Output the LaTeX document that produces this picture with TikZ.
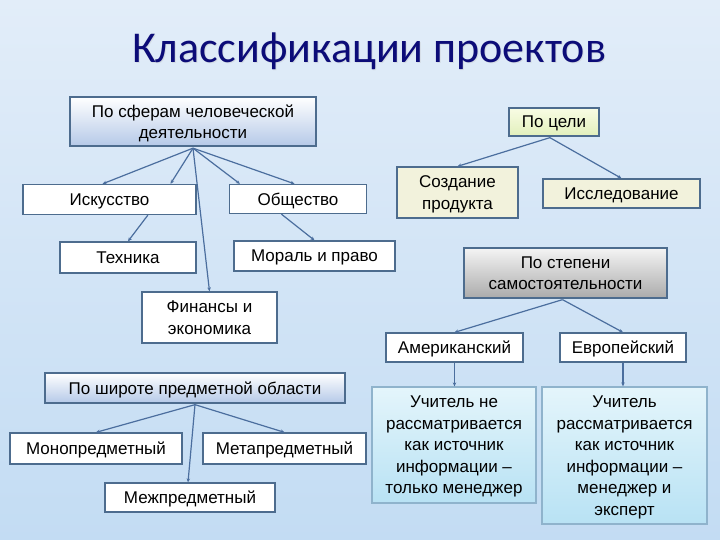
\documentclass[tikz,border=0pt]{standalone}
\usepackage{fontspec}
\setmainfont{Liberation Sans}
\newfontfamily\titlefont{Carlito}
\usetikzlibrary{calc,arrows.meta}
\definecolor{bgA}{HTML}{E2EDF9}
\definecolor{bgB}{HTML}{C3DCF3}
\definecolor{edge}{HTML}{4D6C8E}
\definecolor{conn}{HTML}{4B6E9E}
\definecolor{titleblue}{HTML}{0C0C78}
\definecolor{blueB}{HTML}{B5C9E8}
\definecolor{tselA}{HTML}{F8FCE4}
\definecolor{tselB}{HTML}{E2F0BC}
\definecolor{beige}{HTML}{F2F2DC}
\definecolor{grayA}{HTML}{F4F4F4}
\definecolor{grayB}{HTML}{ABABAB}
\definecolor{cyA}{HTML}{E4F5FB}
\definecolor{cyB}{HTML}{B8E2F4}
\definecolor{cyedge}{HTML}{8FB3CC}
\tikzset{
  boxbase/.style={draw=edge, line width=1.3pt, inner sep=1pt, align=center,
    font=\fontsize{17}{21.5}\selectfont, text=black, text depth=0pt},
  whitebox/.style={boxbase, fill=white},
  bluegrad/.style={boxbase, top color=white, bottom color=blueB},
  conlink/.style={draw=conn, line width=1.2pt, -{Stealth[length=4pt,width=3.5pt]}},
}
\begin{document}
\begin{tikzpicture}[x=1pt,y=-1pt]
\useasboundingbox (0,0) rectangle (720,540);
\shade[top color=bgA, bottom color=bgB] (0,0) rectangle (720,540);
% title
\node[text=black!25, opacity=0.35, font=\titlefont\fontsize{44}{48}\selectfont] at (370,52) {Классификации проектов};
\node (title) [text=titleblue, font=\titlefont\fontsize{44}{48}\selectfont] at (369,51) {Классификации проектов};
% left tree
\node (b1) [bluegrad, minimum width=246pt, minimum height=49pt] at (193,121.5) {По сферам человеческой\\деятельности};
\node (isk) [whitebox, minimum width=173pt, minimum height=30pt] at (109.5,199.5) {Искусство};
\node (obsh) [whitebox, minimum width=137pt, minimum height=29pt] at (298,199) {Общество};
\node (tech) [whitebox, minimum width=136pt, minimum height=31pt] at (128,257.5) {Техника};
\node (moral) [whitebox, minimum width=161pt, minimum height=30pt] at (314.5,256) {Мораль и право};
\node (fin) [whitebox, minimum width=135pt, minimum height=51pt] at (209.5,317.5) {Финансы и\\экономика};
\coordinate (hub) at ($(b1.south)+(0,1.5)$);
\draw[conlink] (hub) -- ($(isk.north west)!0.46!(isk.north east)$);
\draw[conlink] (hub) -- ($(isk.north west)!0.85!(isk.north east)$);
\draw[conlink] (hub) -- (fin.north);
\draw[conlink] (hub) -- ($(obsh.north west)!0.08!(obsh.north east)$);
\draw[conlink] (hub) -- ($(obsh.north west)!0.475!(obsh.north east)$);
\draw[conlink] ($(isk.south west)!0.72!(isk.south east)$) -- (tech.north);
\draw[conlink] ($(obsh.south west)!0.38!(obsh.south east)$) -- (moral.north);
% right top tree
\node (tsel) [boxbase, top color=tselA, bottom color=tselB, minimum width=90pt, minimum height=28pt] at (554,122) {По цели};
\node (sozd) [boxbase, fill=beige, minimum width=121pt, minimum height=51pt] at (457.5,192.5) {Создание\\продукта};
\node (issl) [boxbase, fill=beige, minimum width=157pt, minimum height=29pt] at (621.5,193.5) {Исследование};
\coordinate (thub) at ($(tsel.south west)!0.455!(tsel.south east)+(0,1)$);
\draw[conlink] (thub) -- (sozd.north);
\draw[conlink] (thub) -- (issl.north);
% independence tree
\node (stp) [boxbase, top color=grayA, bottom color=grayB, minimum width=203pt, minimum height=50pt] at (565.5,273) {По степени\\самостоятельности};
\node (amer) [whitebox, minimum width=137pt, minimum height=29pt] at (454.5,347.5) {Американский};
\node (evro) [whitebox, minimum width=126pt, minimum height=29pt] at (623,347.5) {Европейский};
\node (uch1) [boxbase, draw=cyedge, top color=cyA, bottom color=cyB, minimum width=164pt, minimum height=116pt] at (454,445) {Учитель не\\рассматривается\\как источник\\информации –\\только менеджер};
\node (uch2) [boxbase, draw=cyedge, top color=cyA, bottom color=cyB, minimum width=165pt, minimum height=137pt] at (624.5,455.5) {Учитель\\рассматривается\\как источник\\информации –\\менеджер и\\эксперт};
\coordinate (shub) at ($(stp.south)+(-3,1)$);
\draw[conlink] (shub) -- (amer.north);
\draw[conlink] (shub) -- (evro.north);
\draw[conlink] (amer.south) -- (amer.south |- uch1.north);
\draw[conlink] (evro.south) -- (evro.south |- uch2.north);
% breadth tree
\node (shir) [bluegrad, minimum width=300pt, minimum height=30pt] at (195,388) {По широте предметной области};
\node (mono) [whitebox, minimum width=172pt, minimum height=31pt] at (96,448.5) {Монопредметный};
\node (meta) [whitebox, minimum width=163pt, minimum height=31pt] at (284.5,448.5) {Метапредметный};
\node (mezh) [whitebox, minimum width=170pt, minimum height=29pt] at (190,497.5) {Межпредметный};
\coordinate (bhub) at ($(shir.south)+(0,1)$);
\draw[conlink] (bhub) -- (mono.north);
\draw[conlink] (bhub) -- (meta.north);
\draw[conlink] (bhub) -- ($(mezh.north)+(-2,0)$);
\end{tikzpicture}
\end{document}
